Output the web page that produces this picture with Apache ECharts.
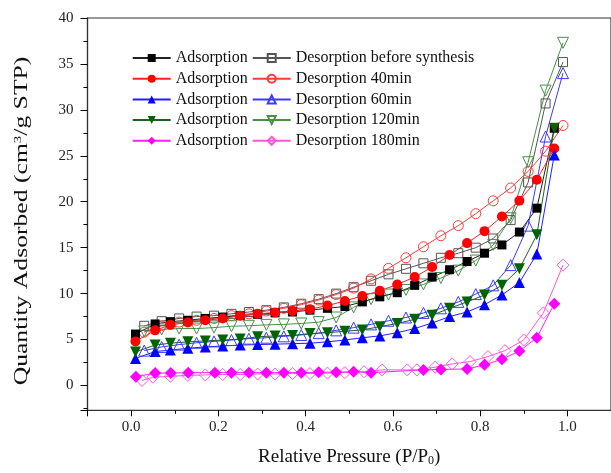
<!DOCTYPE html>
<html><head><meta charset="utf-8">
<script src="https://cdn.jsdelivr.net/npm/echarts@6/dist/echarts.min.js"></script>
<style>html,body{margin:0;padding:0;background:#fff}#c{width:611px;height:473px}</style>
</head><body><div id="c"></div><script>
// ---- axis ranges (ticks: x every 0.2 with minor 0.1; y every 5 with minor 2.5) ----
const X_RANGE = [-0.1, 1.1];
const Y_RANGE = [-2.7, 40];

// ---- series names ----
const ADS_NAMES = ['Adsorption before synthesis', 'Adsorption 40min', 'Adsorption 60min', 'Adsorption 120min', 'Adsorption 180min'];
const DES_NAMES = ['Desorption before synthesis', 'Desorption 40min', 'Desorption 60min', 'Desorption 120min', 'Desorption 180min'];

// ---- relative pressure (x) ----
const ADS_P = [0.01, 0.055, 0.09, 0.13, 0.17, 0.21, 0.25, 0.29, 0.33, 0.37, 0.41, 0.45, 0.49, 0.53, 0.57, 0.61, 0.65, 0.69, 0.73, 0.77, 0.81, 0.85, 0.89, 0.93, 0.97];
const ADS_P_180 = [0.011, 0.055, 0.091, 0.131, 0.192, 0.23, 0.27, 0.31, 0.35, 0.39, 0.43, 0.47, 0.51, 0.55, 0.67, 0.71, 0.77, 0.81, 0.85, 0.89, 0.93, 0.97];
const DES_P = [0.99, 0.95, 0.91, 0.87, 0.83, 0.79, 0.75, 0.71, 0.67, 0.63, 0.59, 0.55, 0.51, 0.47, 0.43, 0.39, 0.35, 0.31, 0.27, 0.23, 0.19, 0.15, 0.11, 0.07, 0.03];
const DES_P_180 = [0.99, 0.945, 0.90, 0.857, 0.818, 0.777, 0.736, 0.697, 0.655, 0.633, 0.575, 0.534, 0.49, 0.45, 0.41, 0.37, 0.33, 0.29, 0.25, 0.21, 0.17, 0.13, 0.09, 0.05, 0.025];

// ---- quantity adsorbed (y) ----
const ADS_BEFORE = [5.6, 6.7, 6.95, 7.1, 7.3, 7.45, 7.6, 7.75, 7.9, 8.0, 8.2, 8.4, 8.6, 9.1, 9.65, 10.1, 10.9, 11.8, 12.6, 13.5, 14.4, 15.3, 16.7, 19.3, 28.0];
const ADS_40 = [4.8, 6.0, 6.6, 6.85, 7.1, 7.3, 7.6, 7.8, 7.95, 8.1, 8.3, 8.7, 9.2, 9.75, 10.3, 11.0, 11.8, 12.9, 14.2, 15.5, 16.8, 18.4, 20.1, 22.4, 25.8];
const ADS_60 = [2.95, 3.7, 3.85, 4.05, 4.2, 4.3, 4.4, 4.45, 4.5, 4.55, 4.6, 4.75, 4.95, 5.2, 5.4, 5.75, 6.2, 6.8, 7.5, 8.0, 8.8, 9.85, 11.2, 14.3, 25.1];
const ADS_120 = [3.65, 4.4, 4.6, 4.75, 4.85, 4.95, 5.05, 5.3, 5.4, 5.45, 5.65, 5.75, 5.9, 6.05, 6.4, 6.75, 7.2, 7.65, 8.4, 9.1, 9.85, 10.9, 12.7, 16.4, 28.0];
const ADS_180 = [0.95, 1.35, 1.35, 1.4, 1.4, 1.4, 1.4, 1.4, 1.4, 1.4, 1.45, 1.45, 1.5, 1.4, 1.7, 1.75, 1.8, 2.25, 2.85, 3.75, 5.2, 8.9];

const DES_BEFORE = [35.2, 30.7, 22.1, 18.0, 16.0, 15.0, 14.4, 13.9, 13.3, 12.7, 12.1, 11.4, 10.7, 10.0, 9.4, 8.9, 8.5, 8.2, 8.0, 7.8, 7.6, 7.5, 7.3, 7.0, 6.5];
const DES_40 = [28.3, 25.5, 23.3, 21.5, 20.1, 18.7, 17.4, 16.3, 15.1, 13.9, 12.75, 11.6, 10.6, 9.9, 9.3, 8.8, 8.4, 8.1, 7.8, 7.6, 7.3, 7.1, 6.9, 6.5, 5.8];
const DES_60 = [34.0, 27.1, 17.4, 13.1, 10.9, 9.95, 9.1, 8.4, 7.9, 7.4, 7.05, 6.65, 6.3, 6.0, 5.7, 5.5, 5.35, 5.2, 5.1, 4.95, 4.8, 4.65, 4.45, 4.2, 3.8];
const DES_120 = [37.3, 32.1, 24.3, 18.2, 15.3, 13.6, 12.5, 11.7, 11.0, 10.4, 9.9, 9.4, 8.5, 7.4, 6.9, 6.75, 6.65, 6.6, 6.5, 6.45, 6.3, 6.2, 6.2, 6.1, 5.9];
const DES_180 = [13.1, 7.9, 4.95, 3.8, 3.15, 2.6, 2.35, 2.0, 1.7, 1.7, 1.7, 1.5, 1.4, 1.35, 1.3, 1.3, 1.25, 1.25, 1.2, 1.2, 1.15, 1.1, 1.0, 0.9, 0.55];

const Y_TITLE = 'Quantity Adsorbed (cm{sup|3}/g STP)';
const X_TITLE = 'Relative Pressure (P/P{sub|0})';

const FONT = '"Liberation Serif", "Times New Roman", serif';
const zip = (xs, ys) => xs.map((x, i) => [x, ys[i]]);

const adsDef = [
  {p: ADS_P, y: ADS_BEFORE, color: '#000000', line: '#222222', symbol: 'rect', size: 9, rot: 0},
  {p: ADS_P, y: ADS_40, color: '#ff0000', line: '#ff2020', symbol: 'circle', size: 10, rot: 0},
  {p: ADS_P, y: ADS_60, color: '#0000ff', line: '#2020ff', symbol: 'triangle', size: 11, rot: 0},
  {p: ADS_P, y: ADS_120, color: '#006400', line: '#1f5f1f', symbol: 'triangle', size: 11, rot: 180},
  {p: ADS_P_180, y: ADS_180, color: '#ff00ff', line: '#ff20ff', symbol: 'diamond', size: 12, rot: 0}
];
const desDef = [
  {p: DES_P, y: DES_BEFORE, color: '#555555', symbol: 'rect', size: 9, rot: 0},
  {p: DES_P, y: DES_40, color: '#ff3b3b', symbol: 'circle', size: 10, rot: 0},
  {p: DES_P, y: DES_60, color: '#3a3aff', symbol: 'triangle', size: 11, rot: 0},
  {p: DES_P, y: DES_120, color: '#4a8f4a', symbol: 'triangle', size: 11, rot: 180},
  {p: DES_P_180, y: DES_180, color: '#ff55dd', symbol: 'diamond', size: 12, rot: 0}
];

const series = [];
desDef.forEach((d, i) => series.push({
  name: DES_NAMES[i], type: 'line', data: zip(d.p, d.y),
  symbol: d.symbol, symbolSize: d.size, symbolRotate: d.rot, showAllSymbol: true,
  lineStyle: {color: d.color, width: 1},
  itemStyle: {color: 'rgba(255,255,255,0)', borderColor: d.color, borderWidth: 1},
  emphasis: {disabled: true}
}));
adsDef.forEach((d, i) => series.push({
  name: ADS_NAMES[i], type: 'line', data: zip(d.p, d.y),
  symbol: d.symbol, symbolSize: d.size, symbolRotate: d.rot, showAllSymbol: true,
  lineStyle: {color: d.line, width: 1},
  itemStyle: {color: d.color, borderColor: d.color, borderWidth: 0},
  emphasis: {disabled: true}
}));

const legendOpt = (left, names, fmt) => {
  const o = {
    orient: 'vertical', padding: 0, itemWidth: 38, itemHeight: 10, itemGap: 4.7,
    textStyle: {fontFamily: FONT, fontSize: 16, color: '#111', lineHeight: 16},
    selectedMode: false, top: 50, left: left, data: names
  };
  if (fmt) o.formatter = fmt;
  return o;
};

const tickLine = () => ({color: '#000', width: 1});

const chart = echarts.init(document.getElementById('c'), null, {renderer: 'canvas'});
chart.setOption({
  animation: false,
  grid: {left: 87.5, right: -2.5, top: 18, bottom: 62.7, show: true, borderColor: '#333', borderWidth: 1.2, backgroundColor: 'transparent'},
  legend: [
    legendOpt(131.7, ADS_NAMES, () => 'Adsorption'),
    legendOpt(251.7, DES_NAMES, null)
  ],
  graphic: [{
    type: 'text', x: 22, y: 221, rotation: Math.PI / 2, scaleX: 1.35, scaleY: 1,
    style: {
      text: Y_TITLE, fontFamily: FONT, fontSize: 19, fill: '#111',
      align: 'center', verticalAlign: 'middle',
      rich: {sup: {fontFamily: FONT, fontSize: 11, fill: '#111', verticalAlign: 'top', padding: [0, 0, 8, 0]}}
    }
  }],
  xAxis: {
    type: 'value', min: X_RANGE[0], max: X_RANGE[1], splitNumber: 6,
    name: X_TITLE, nameLocation: 'middle', nameGap: 37,
    nameTextStyle: {fontFamily: FONT, fontSize: 19, color: '#111', rich: {sub: {fontFamily: FONT, fontSize: 12, verticalAlign: 'bottom', padding: [8, 0, 0, 0]}}},
    axisLine: {show: true, onZero: false, lineStyle: {color: '#333', width: 1.2}},
    axisTick: {show: true, length: 6, lineStyle: tickLine()},
    minorTick: {show: true, splitNumber: 2, length: 3.5, lineStyle: tickLine()},
    axisLabel: {showMinLabel: false, showMaxLabel: false, formatter: v => v.toFixed(1), fontFamily: FONT, fontSize: 15, color: '#222', margin: 9},
    splitLine: {show: false}
  },
  yAxis: {
    type: 'value', min: Y_RANGE[0], max: Y_RANGE[1], splitNumber: 9,
    axisLine: {show: true, onZero: false, lineStyle: {color: '#333', width: 1.2}},
    axisTick: {show: true, length: 7, lineStyle: tickLine()},
    minorTick: {show: true, splitNumber: 2, length: 4, lineStyle: tickLine()},
    axisLabel: {showMinLabel: false, showMaxLabel: true, fontFamily: FONT, fontSize: 15, color: '#222', margin: 14},
    splitLine: {show: false}
  },
  series: series
});
</script></body></html>
